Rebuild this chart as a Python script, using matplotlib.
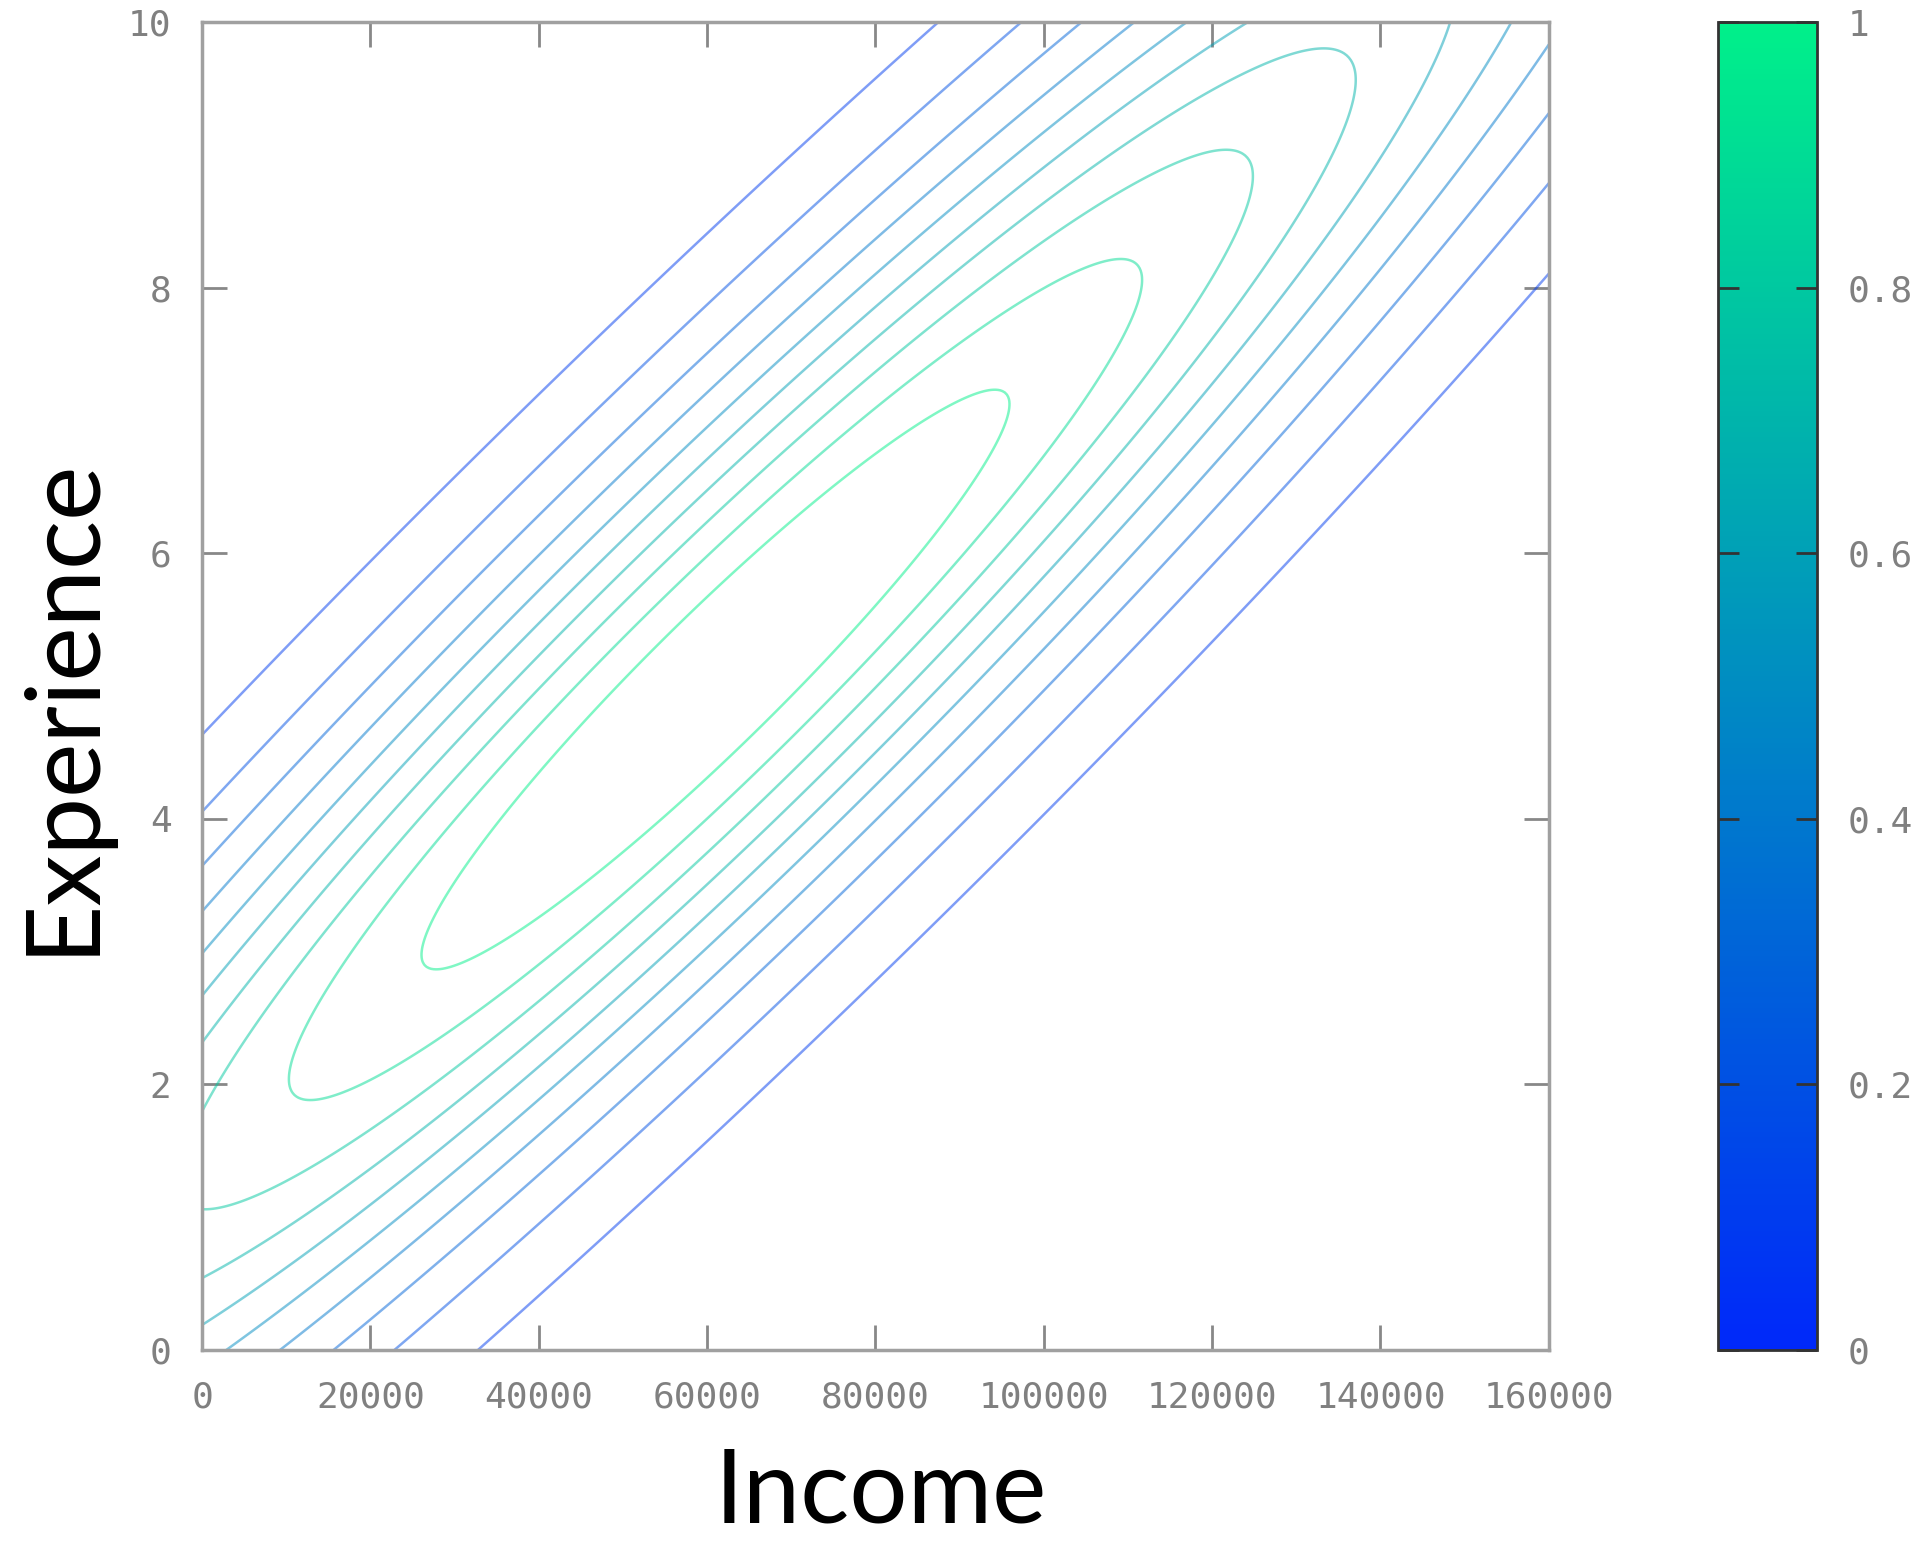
import numpy as np
import matplotlib.pyplot as plt
from matplotlib.colors import LinearSegmentedColormap, Normalize
from matplotlib.cm import ScalarMappable

# Gaussian surface
income_mean = 61000
experience_mean = 5.05
income_std = 80000
experience_std = 5.0
correlation = 0.95
peak = 1.1
levels = [0.1, 0.2, 0.3, 0.4, 0.5, 0.6, 0.7, 0.8, 0.9, 1.0]

x_ticks = [0, 20000, 40000, 60000, 80000, 100000, 120000, 140000, 160000]
y_ticks = [0, 2, 4, 6, 8, 10]
cb_ticks = [0, 0.2, 0.4, 0.6, 0.8, 1]
cb_labels = ["0", "0.2", "0.4", "0.6", "0.8", "1"]

cmap = LinearSegmentedColormap.from_list("bluegreen", ["#0028fa", "#00f08a"])

income = np.linspace(0, 160000, 600)
experience = np.linspace(0, 10, 600)
X, Y = np.meshgrid(income, experience)
u = (X - income_mean) / income_std
v = (Y - experience_mean) / experience_std
Q = (u**2 - 2 * correlation * u * v + v**2) / (1 - correlation**2)
Z = peak * np.exp(-0.5 * Q)

fig = plt.figure(figsize=(19.24, 15.51), dpi=100)
ax = fig.add_axes([0.105, 0.1296, 0.700, 0.856])
ax.contour(X, Y, Z, levels=levels, cmap=cmap, norm=Normalize(0, 1),
           linewidths=1.8, alpha=0.5)

ax.set_xlim(0, 160000)
ax.set_ylim(0, 10)
ax.set_xticks(x_ticks)
ax.set_xticklabels([str(t) for t in x_ticks])
ax.set_yticks(y_ticks)
ax.set_yticklabels([str(t) for t in y_ticks])
ax.tick_params(direction="in", top=True, right=True, length=18, width=2,
               color="#888888", labelcolor="#808080", labelsize=26, pad=22)
for label in ax.get_xticklabels() + ax.get_yticklabels():
    label.set_family("DejaVu Sans Mono")
for spine in ax.spines.values():
    spine.set_color("#a0a0a0")
    spine.set_linewidth(2.5)

fig.text(0.458, 0.007, "Income", fontsize=74, family="Lato", ha="center", va="bottom")
fig.text(0.008, 0.545, "Experience", fontsize=74, family="Lato", rotation=90,
         ha="left", va="center")

cax = fig.add_axes([0.893, 0.1296, 0.0515, 0.856])
cb = fig.colorbar(ScalarMappable(norm=Normalize(0, 1), cmap=cmap), cax=cax)
cb.set_ticks(cb_ticks)
cb.set_ticklabels(cb_labels)
cb.outline.set_edgecolor("#333333")
cb.outline.set_linewidth(2)
cax.tick_params(direction="in", left=True, right=True, length=15, width=2,
                color="#333333", labelcolor="#808080", labelsize=26, pad=22)
for label in cax.get_yticklabels():
    label.set_family("DejaVu Sans Mono")

fig.savefig("out.png", dpi=100)
